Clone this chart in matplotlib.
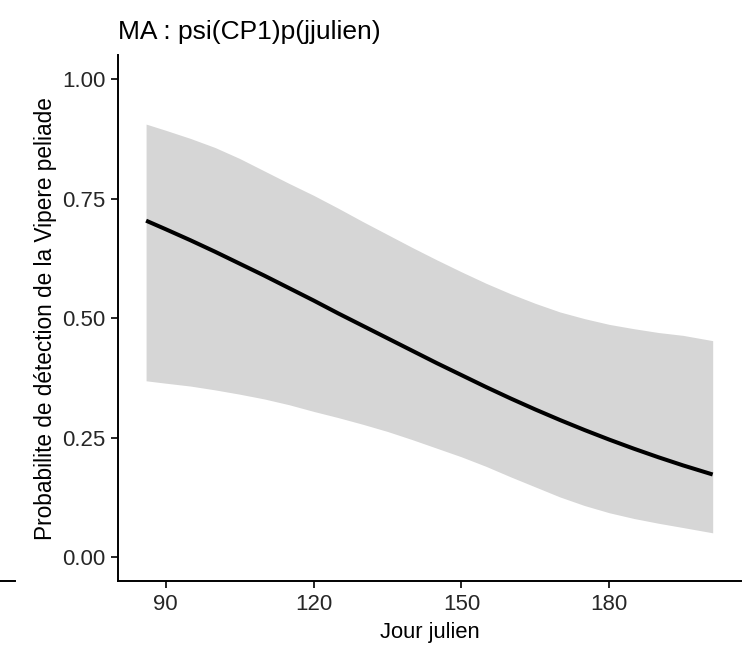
import matplotlib
matplotlib.use("Agg")
import matplotlib.pyplot as plt
from matplotlib.lines import Line2D

# jour julien et probabilite de detection
jour = [86, 90, 95, 100, 105, 110, 115, 120, 125, 130, 135, 140,
        145, 150, 155, 160, 165, 170, 175, 180, 185, 190, 195, 201]
p_det = [0.704, 0.686, 0.663, 0.639, 0.614, 0.589, 0.563, 0.537, 0.510, 0.484, 0.458, 0.432,
         0.406, 0.381, 0.356, 0.332, 0.309, 0.287, 0.266, 0.246, 0.227, 0.209, 0.192, 0.173]
ic_haut = [0.906, 0.893, 0.876, 0.857, 0.834, 0.808, 0.782, 0.757, 0.730, 0.702, 0.675, 0.648,
           0.622, 0.597, 0.573, 0.551, 0.531, 0.513, 0.499, 0.487, 0.478, 0.470, 0.464, 0.453]
ic_bas = [0.369, 0.364, 0.358, 0.350, 0.341, 0.331, 0.319, 0.305, 0.292, 0.278, 0.263, 0.246,
          0.228, 0.210, 0.190, 0.168, 0.147, 0.126, 0.108, 0.093, 0.081, 0.071, 0.062, 0.051]

x_ticks = [90, 120, 150, 180]
y_ticks = [0.0, 0.25, 0.5, 0.75, 1.0]
y_ticklabels = ["0.00", "0.25", "0.50", "0.75", "1.00"]

plt.rcParams['font.family'] = ['Liberation Sans', 'DejaVu Sans']

fig = plt.figure(figsize=(7.5, 6.5), dpi=100)
ax = fig.add_axes([0.157, 0.106, 0.831, 0.809])

ax.fill_between(jour, ic_bas, ic_haut, color='#d6d6d6', linewidth=0)
ax.plot(jour, p_det, color='black', lw=2.9, solid_capstyle='butt')

rng = jour[-1] - jour[0]
ax.set_xlim(jour[0] - 0.05 * rng, jour[-1] + 0.05 * rng)
ax.set_ylim(-0.05, 1.05)
ax.set_xticks(x_ticks)
ax.set_yticks(y_ticks)
ax.set_yticklabels(y_ticklabels)

for s in ['top', 'right']:
    ax.spines[s].set_visible(False)
for s in ['left', 'bottom']:
    ax.spines[s].set_linewidth(1.4)
    ax.spines[s].set_color('black')

ax.tick_params(axis='both', length=5, width=1.2, color='black',
               labelsize=16, labelcolor='#262626', pad=4)

ax.set_xlabel("Jour julien", fontsize=15.8, labelpad=5)
ax.set_ylabel("Probabilite de détection de la Vipere peliade", fontsize=16.3)
ax.yaxis.set_label_coords(-0.097, 0.5)
ax.set_title("MA : psi(CP1)p(jjulien)", fontsize=19, loc='left', pad=12)

# petit trait a gauche (reste du panneau voisin)
fig.add_artist(Line2D([0.0, 0.02], [0.106, 0.106], color='black', lw=1.4,
                      transform=fig.transFigure))

fig.savefig("out.png", dpi=100)
